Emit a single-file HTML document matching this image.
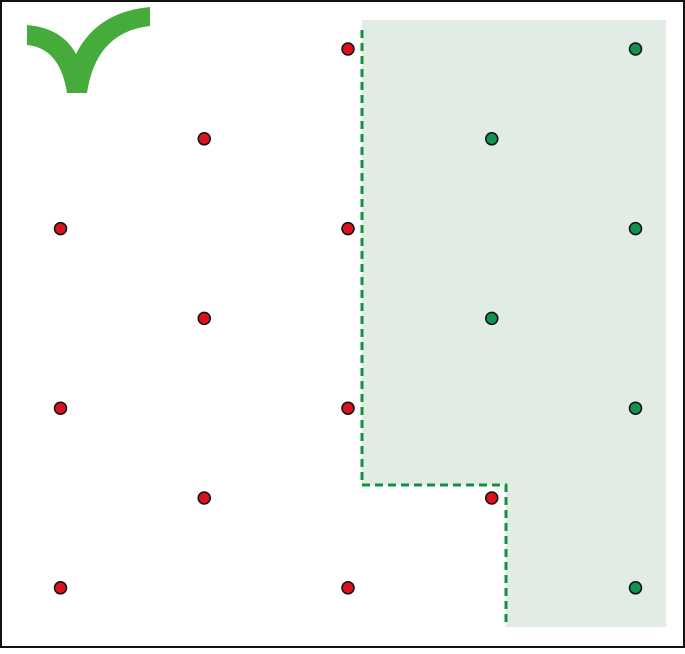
<!DOCTYPE html>
<html><head><style>html,body{margin:0;padding:0;background:#fff}</style></head>
<body>
<svg id="chart" width="685" height="649" viewBox="0 0 685 649" xmlns="http://www.w3.org/2000/svg">
<rect x="1" y="1" width="683" height="646" fill="#fff" stroke="#111" stroke-width="2"/>
<path d="M362,20 L666,20 L666,627 L506,627 L506,485 L362,485 Z" fill="#e0ece4"/>
<path d="M362,30 L362,485 L506,485 L506,627" fill="none" stroke="#14913f" stroke-width="3" stroke-dasharray="8,5"/>
<path d="M27,25 Q62,28 76,54 Q97,12 150,7 L150,26 Q96,32 87,93 L67,93 Q60,48 27,45 Z" fill="#45ab3a"/>
<g id="pts"></g>
</svg>
<script>
const cols = [0,1,2,3,4];
const rows = [0,1,2,3,4,5,6];
const redCol = [2,1,0,2,1,0,2,1,3,0,2];
const redRow = [0,1,2,2,3,4,4,5,5,6,6];
const greenCol = [4,3,4,3,4,4];
const greenRow = [0,1,2,3,4,6];
const xs = c => 60.5 + c * 143.75;
const ys = r => 49 + r * 89.8;
const g = document.getElementById('pts');
function dot(c, r, fill, name) {
  const el = document.createElementNS('http://www.w3.org/2000/svg', 'circle');
  el.setAttribute('cx', xs(c));
  el.setAttribute('cy', ys(r));
  el.setAttribute('r', 6);
  el.setAttribute('fill', fill);
  el.setAttribute('stroke', '#111');
  el.setAttribute('stroke-width', 1.5);
  
  
  g.appendChild(el);
}
redCol.forEach((c, i) => dot(c, redRow[i], '#d8121e', 'red-point'));
greenCol.forEach((c, i) => dot(c, greenRow[i], '#129150', 'green-point'));
</script>
</body></html>
